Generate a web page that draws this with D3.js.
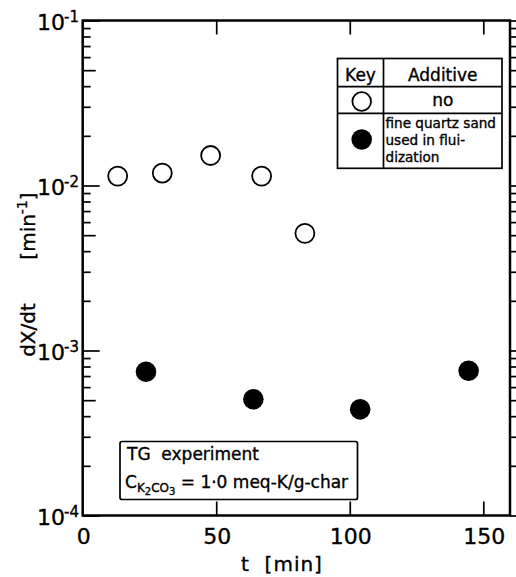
<!DOCTYPE html>
<html><head><meta charset="utf-8">
<script src="https://cdnjs.cloudflare.com/ajax/libs/d3/7.8.5/d3.min.js"></script>
<style>
body{margin:0;background:#fff;}
svg{display:block;}
text{font-family:"DejaVu Sans",sans-serif;fill:#000;stroke:#000;stroke-width:0.35px;}
</style></head><body>
<svg id="c" width="516" height="577"></svg>
<script>
// ---- data ----
const openT = [13.1, 29.8, 47.9, 67.0, 83.2];
const openRate = [0.0114, 0.0119, 0.0152, 0.0114, 0.00513];
const filledT = [23.7, 63.9, 103.9, 144.5];
const filledRate = [0.000744, 0.000506, 0.000440, 0.000754];
const xTicks = [0, 50, 100, 150];
const yMajor = [1e-4, 1e-3, 1e-2, 1e-1];
const yExp = ["-4", "-3", "-2", "-1"];
const legendRows = ["no", ["fine quartz sand", "used in flui-", "dization"]];

const svg = d3.select("#c");
const L = 82.7, R = 510, T = 20.5, B = 515.5;
const x = d3.scaleLinear().domain([0, 160]).range([L, R]);
const y = d3.scaleLog().domain([1e-4, 1e-1]).range([B, T]);

// minor ticks
const minors = [];
for (let e = -4; e < -1; e++) for (let m = 2; m <= 9; m++) minors.push(m * Math.pow(10, e));
const mid = minors.filter(v => Math.abs(v / Math.pow(10, Math.floor(Math.log10(v) + 1e-9)) - 5) < 1e-6);
const small = minors.filter(v => !mid.includes(v));

function yAxes(g, side) {
  const mk = side === "left" ? d3.axisLeft : d3.axisRight;
  const sgn = side === "left" ? -1 : 1;
  [[yMajor, 17], [mid, 13], [small, 8]].forEach(([vals, len]) => {
    g.append("g").attr("transform", `translate(${side === "left" ? L : R},0)`)
      .call(mk(y).tickValues(vals).tickSize(sgn * len).tickFormat(""))
      .call(s => s.select(".domain").remove())
      .selectAll("line").attr("stroke", "#000").attr("stroke-width", 1.7);
  });
}
yAxes(svg, "left");
yAxes(svg, "right");

// x ticks bottom and top
svg.append("g").attr("transform", `translate(0,${B})`)
  .call(d3.axisBottom(x).tickValues(xTicks.slice(1)).tickSize(-14).tickFormat(""))
  .call(s => s.select(".domain").remove())
  .selectAll("line").attr("stroke", "#000").attr("stroke-width", 1.7);
svg.append("g").attr("transform", `translate(0,${T})`)
  .call(d3.axisTop(x).tickValues(xTicks.slice(1)).tickSize(-14).tickFormat(""))
  .call(s => s.select(".domain").remove())
  .selectAll("line").attr("stroke", "#000").attr("stroke-width", 1.7);

// frame
svg.append("rect").attr("x", L).attr("y", T).attr("width", R - L).attr("height", B - T)
  .attr("fill", "none").attr("stroke", "#000").attr("stroke-width", 2.5);

// x tick labels
svg.selectAll(".xl").data(xTicks).enter().append("text")
  .attr("x", d => x(d) + 1).attr("y", B + 28).attr("text-anchor", "middle")
  .attr("font-size", 22).text(d => d);

// y tick labels
yMajor.forEach((v, i) => {
  svg.append("text").attr("x", 65).attr("y", y(v) + 9)
    .attr("text-anchor", "end").attr("font-size", 22).text("10");
  svg.append("text").attr("x", 64).attr("y", y(v) + 1).attr("font-size", 15).text(yExp[i]);
});

// axis labels
svg.append("text").attr("x", 282).attr("y", 571).attr("text-anchor", "middle")
  .attr("font-size", 20).attr("letter-spacing", 1).attr("xml:space", "preserve").text("t  [min]");
svg.append("text").attr("transform", "translate(35,330) rotate(-90)").attr("text-anchor", "middle")
  .attr("font-size", 20).text("dX/dt");
const yl = svg.append("text").attr("transform", "translate(35,226) rotate(-90)").attr("text-anchor", "middle")
  .attr("font-size", 20);
yl.append("tspan").text("[min");
yl.append("tspan").attr("font-size", 14).attr("dy", -8).text("-1");
yl.append("tspan").attr("dy", 8).text("]");

// data points
svg.selectAll(".op").data(openT).enter().append("circle")
  .attr("cx", d => x(d)).attr("cy", (d, i) => y(openRate[i])).attr("r", 9.5)
  .attr("fill", "#fff").attr("stroke", "#000").attr("stroke-width", 1.8);
svg.selectAll(".fp").data(filledT).enter().append("circle")
  .attr("cx", d => x(d)).attr("cy", (d, i) => y(filledRate[i])).attr("r", 10.3)
  .attr("fill", "#000");

// legend
const lg = svg.append("g");
const lx0 = 337.5, lx1 = 383.5, lx2 = 502, ly0 = 58.5, ly1 = 86.7, ly2 = 113.3, ly3 = 168.3;
lg.append("rect").attr("x", lx0).attr("y", ly0).attr("width", lx2 - lx0).attr("height", ly3 - ly0)
  .attr("fill", "#fff").attr("stroke", "#000").attr("stroke-width", 1.7);
lg.append("line").attr("x1", lx1).attr("x2", lx1).attr("y1", ly0).attr("y2", ly3).attr("stroke", "#000").attr("stroke-width", 1.7);
[ly1, ly2].forEach(yy => lg.append("line").attr("x1", lx0).attr("x2", lx2).attr("y1", yy).attr("y2", yy).attr("stroke", "#000").attr("stroke-width", 1.7));
lg.append("text").attr("x", (lx0 + lx1) / 2).attr("y", 81).attr("text-anchor", "middle").attr("font-size", 17).text("Key");
lg.append("text").attr("x", (lx1 + lx2) / 2).attr("y", 81).attr("text-anchor", "middle").attr("font-size", 17).text("Additive");
lg.append("circle").attr("cx", 361.7).attr("cy", 101.5).attr("r", 9.3).attr("fill", "#fff").attr("stroke", "#000").attr("stroke-width", 1.8);
lg.append("text").attr("x", (lx1 + lx2) / 2).attr("y", 106).attr("text-anchor", "middle").attr("font-size", 17).text(legendRows[0]);
lg.append("circle").attr("cx", 361.7).attr("cy", 139.5).attr("r", 10.3).attr("fill", "#000");
legendRows[1].forEach((s, i) => lg.append("text").attr("x", 385.5).attr("y", 128 + i * 16.8)
  .attr("font-size", 13.6).text(s));

// TG box
svg.append("rect").attr("x", 120).attr("y", 441.5).attr("width", 237.5).attr("height", 58)
  .attr("rx", 2).attr("fill", "#fff").attr("stroke", "#000").attr("stroke-width", 1.7);
svg.append("text").attr("x", 127).attr("y", 460).attr("font-size", 17).attr("xml:space", "preserve").text("TG  experiment");
const c2 = svg.append("text").attr("x", 125).attr("y", 488).attr("font-size", 17);
c2.append("tspan").text("C");
c2.append("tspan").attr("font-size", 12).attr("dy", 4).text("K");
c2.append("tspan").attr("font-size", 10).attr("dy", 3).text("2");
c2.append("tspan").attr("font-size", 12).attr("dy", -3).text("CO");
c2.append("tspan").attr("font-size", 10).attr("dy", 3).text("3");
c2.append("tspan").attr("dy", -7).text(" = 1·0 meq-K/g-char");
</script></body></html>
